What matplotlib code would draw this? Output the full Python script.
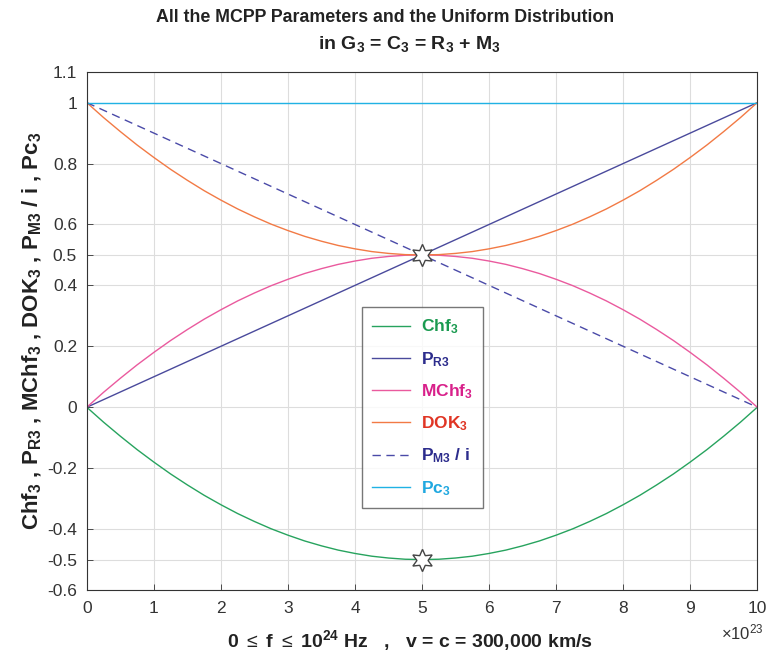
import matplotlib
matplotlib.use("Agg")
import matplotlib.pyplot as plt

# frequency axis, in units of 1e23 Hz
x = [0, 0.25, 0.5, 0.75, 1, 1.25, 1.5, 1.75, 2, 2.25, 2.5, 2.75, 3, 3.25, 3.5, 3.75,
     4, 4.25, 4.5, 4.75, 5, 5.25, 5.5, 5.75, 6, 6.25, 6.5, 6.75, 7, 7.25, 7.5, 7.75,
     8, 8.25, 8.5, 8.75, 9, 9.25, 9.5, 9.75, 10]

chf = [0, -0.049, -0.095, -0.139, -0.18, -0.219, -0.255, -0.289, -0.32, -0.349,
       -0.375, -0.399, -0.42, -0.439, -0.455, -0.469, -0.48, -0.489, -0.495, -0.499,
       -0.5, -0.499, -0.495, -0.489, -0.48, -0.469, -0.455, -0.439, -0.42, -0.399,
       -0.375, -0.349, -0.32, -0.289, -0.255, -0.219, -0.18, -0.139, -0.095, -0.049, 0]
mchf = [0, 0.049, 0.095, 0.139, 0.18, 0.219, 0.255, 0.289, 0.32, 0.349,
        0.375, 0.399, 0.42, 0.439, 0.455, 0.469, 0.48, 0.489, 0.495, 0.499,
        0.5, 0.499, 0.495, 0.489, 0.48, 0.469, 0.455, 0.439, 0.42, 0.399,
        0.375, 0.349, 0.32, 0.289, 0.255, 0.219, 0.18, 0.139, 0.095, 0.049, 0]
dok = [1, 0.951, 0.905, 0.861, 0.82, 0.781, 0.745, 0.711, 0.68, 0.651,
       0.625, 0.601, 0.58, 0.561, 0.545, 0.531, 0.52, 0.511, 0.505, 0.501,
       0.5, 0.501, 0.505, 0.511, 0.52, 0.531, 0.545, 0.561, 0.58, 0.601,
       0.625, 0.651, 0.68, 0.711, 0.745, 0.781, 0.82, 0.861, 0.905, 0.951, 1]

# straight lines
x_lin = [0, 5, 10]
p_r = [0, 0.5, 1]
p_m = [1, 0.5, 0]
pc = [1, 1, 1]

star_x = [5, 5]
star_y = [0.5, -0.5]

yticks = [-0.6, -0.5, -0.4, -0.2, 0, 0.2, 0.4, 0.5, 0.6, 0.8, 1, 1.1]
ytick_labels = ["-0.6", "-0.5", "-0.4", "-0.2", "0", "0.2", "0.4", "0.5", "0.6", "0.8", "1", "1.1"]

plt.rcParams["font.family"] = ["Liberation Sans", "DejaVu Sans"]
plt.rcParams["mathtext.fontset"] = "custom"
plt.rcParams["mathtext.rm"] = "Liberation Sans"
plt.rcParams["mathtext.bf"] = "Liberation Sans:bold"
plt.rcParams["mathtext.it"] = "Liberation Sans:italic"

fig = plt.figure(figsize=(7.68, 6.56), dpi=100)
ax = fig.add_axes([0.113, 0.1006, 0.873, 0.7894])

series = [
    (x, chf, "#27a35e", "-", r"$\mathbf{Chf_3}$", "#1a9a50"),
    (x_lin, p_r, "#4a4a9c", "-", r"$\mathbf{P_{R3}}$", "#2c2c8c"),
    (x, mchf, "#ea5a9e", "-", r"$\mathbf{MChf_3}$", "#d8208a"),
    (x, dok, "#f27a45", "-", r"$\mathbf{DOK_3}$", "#e03524"),
    (x_lin, p_m, "#4a4aa8", "--", r"$\mathbf{P_{M3}\ /\ i}$", "#2c2c8c"),
    (x_lin, pc, "#20b2e4", "-", r"$\mathbf{Pc_3}$", "#20a8e0"),
]
lines = []
for xs, vals, col, ls, lab, tcol in series:
    (ln,) = ax.plot(xs, vals, color=col, lw=1.0, ls=ls, label=lab,
                    dashes=(6, 4) if ls == "--" else (None, None))
    lines.append(ln)

ax.plot(star_x, star_y, ls="none", marker=(6, 1, 0), ms=16,
        mfc="white", mec="#444444", mew=1.0, zorder=5)

ax.set_xlim(0, 10)
ax.set_ylim(-0.6, 1.1)
ax.set_xticks(range(11))
ax.set_yticks(yticks)
ax.set_yticklabels(ytick_labels)
ax.tick_params(labelsize=12.5, direction="in", length=4, width=0.6, colors="#333333")
ax.tick_params(axis="x", pad=8)
ax.tick_params(axis="y", pad=7)
ax.grid(True, color="#dddddd", lw=0.8)
ax.set_axisbelow(True)
for s in ax.spines.values():
    s.set_color("#333333")
    s.set_linewidth(0.8)

leg = ax.legend(handles=lines, loc="upper left", bbox_to_anchor=(0.41, 0.546),
                borderaxespad=0, fontsize=12.5, frameon=True, fancybox=False,
                edgecolor="#555555", handlelength=2.2, handletextpad=0.6,
                labelspacing=0.78, borderpad=0.6)
for txt, (_, _, _, _, _, tcol) in zip(leg.get_texts(), series):
    txt.set_color(tcol)

fig.text(385 / 768, 1 - 18 / 656, "All the MCPP Parameters and the Uniform Distribution",
         ha="center", va="center", fontsize=12.8, fontweight="bold", color="#222222")
fig.text(410 / 768, 1 - 44 / 656,
         r"in $\mathbf{G_3}$ = $\mathbf{C_3}$ = $\mathbf{R_3}$ + $\mathbf{M_3}$",
         ha="center", va="center", fontsize=14, fontweight="bold", color="#222222")

ax.set_xlabel(r"0 $\leq$ f $\leq$ $\mathbf{10^{24}}$ Hz   ,   v = c = 300,000 km/s",
              fontsize=14, fontweight="bold", color="#222222")
ax.xaxis.set_label_coords(0.482, -0.073)
ax.set_ylabel(r"$\mathbf{Chf_3}$ , $\mathbf{P_{R3}}$ , $\mathbf{MChf_3}$ , "
              r"$\mathbf{DOK_3}$ , $\mathbf{P_{M3}}$ / i , $\mathbf{Pc_3}$",
              fontsize=16, fontweight="bold", color="#222222")
ax.yaxis.set_label_coords(-0.064, 0.5)
fig.text(0.995, 1 - 632 / 656, r"$\times\mathregular{10^{23}}$", ha="right", va="center",
         fontsize=12, color="#333333")

fig.savefig("out.png", dpi=100)
